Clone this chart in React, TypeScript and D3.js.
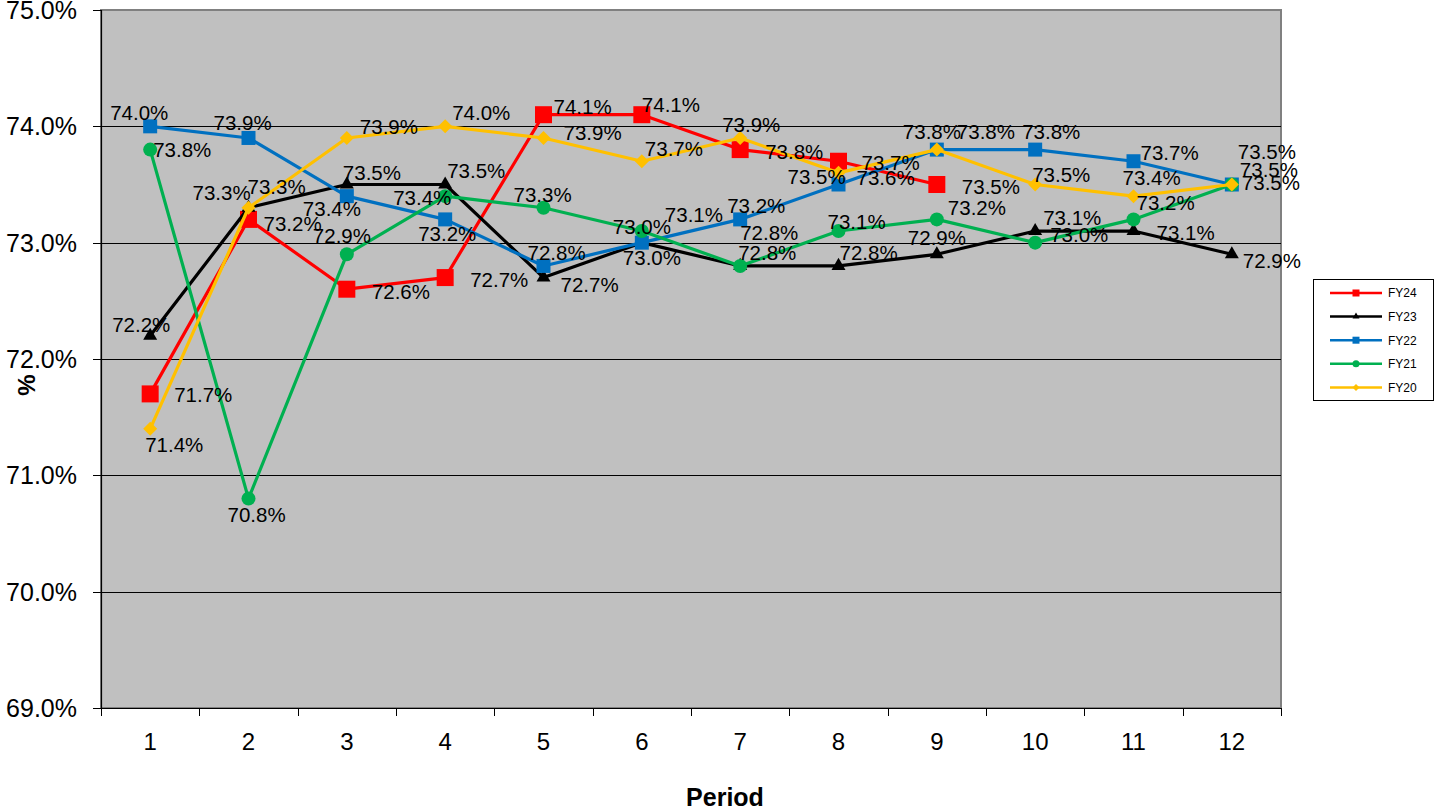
import React from 'react';
import * as d3 from 'd3';

const periods = [1, 2, 3, 4, 5, 6, 7, 8, 9, 10, 11, 12];
const fy24 = [71.7, 73.2, 72.6, 72.7, 74.1, 74.1, 73.8, 73.7, 73.5];
const fy23 = [72.2, 73.3, 73.5, 73.5, 72.7, 73.0, 72.8, 72.8, 72.9, 73.1, 73.1, 72.9];
const fy22 = [74.0, 73.9, 73.4, 73.2, 72.8, 73.0, 73.2, 73.5, 73.8, 73.8, 73.7, 73.5];
const fy21 = [73.8, 70.8, 72.9, 73.4, 73.3, 73.1, 72.8, 73.1, 73.2, 73.0, 73.2, 73.5];
const fy20 = [71.4, 73.3, 73.9, 74.0, 73.9, 73.7, 73.9, 73.6, 73.8, 73.5, 73.4, 73.5];
const seriesNames = ['FY24', 'FY23', 'FY22', 'FY21', 'FY20'];
const yTicks = [69, 70, 71, 72, 73, 74, 75];

// label nudges: [left edge offset from marker, vertical centre offset from marker]
const nudge24 = [[24, 1], [15, 4], [25, 2], [25, 2], [10, -8], [0, -10], [25, 2], [23, 1], [25, 2]];
const nudge23 = [[-38, -11], [-56, -15], [-4, -12], [2, -14], [17, 7], [-19, 15], [-2, -13], [1, -13], [-29, -17], [8, -13], [23, 2], [11, 6]];
const nudge22 = [[-40, -14], [-35, -15], [-44, 12], [-27, 14], [-16, -13], [-29, -16], [-13, -14], [-51, -8], [-34, -18], [-13, -18], [7, -9], [6, -33]];
const nudge21 = [[3, 0], [-21, 16], [-34, -19], [-52, 1], [-30, -13], [23, -16], [0, -33], [-11, -9], [11, -12], [15, -8], [3, -17], [8, -15]];
const nudge20 = [[-5, 16], [-1, -21], [13, -11], [7, -14], [20, -5], [3, -13], [-18, -13], [18, 5], [20, -18], [-3, -10], [-11, -19], [10, -2]];

type Marker = 'square' | 'triangle' | 'circle' | 'diamond';
const series = [
  { name: seriesNames[0], values: fy24, color: '#FF0000', marker: 'square' as Marker, size: 17, lsize: 7, nudges: nudge24 },
  { name: seriesNames[1], values: fy23, color: '#000000', marker: 'triangle' as Marker, size: 14, lsize: 7, nudges: nudge23 },
  { name: seriesNames[2], values: fy22, color: '#0070C0', marker: 'square' as Marker, size: 14, lsize: 7, nudges: nudge22 },
  { name: seriesNames[3], values: fy21, color: '#00B050', marker: 'circle' as Marker, size: 14, lsize: 7, nudges: nudge21 },
  { name: seriesNames[4], values: fy20, color: '#FFC000', marker: 'diamond' as Marker, size: 14, lsize: 7, nudges: nudge20 },
];

const FONT = '"Liberation Sans", Arial, sans-serif';

function markerPath(m: Marker, w: number): { d: string; rot: number } {
  if (m === 'square') return { d: d3.symbol(d3.symbolSquare, w * w)() as string, rot: 0 };
  if (m === 'circle') return { d: d3.symbol(d3.symbolCircle, Math.PI * (w / 2) * (w / 2))() as string, rot: 0 };
  if (m === 'triangle') return { d: d3.symbol(d3.symbolTriangle, (Math.sqrt(3) / 4) * w * w)() as string, rot: 0 };
  const s = w / Math.SQRT2;
  return { d: d3.symbol(d3.symbolSquare, s * s)() as string, rot: 45 };
}

export default function App() {
  const W = 1435, H = 810;
  const left = 101, right = 1281, top = 10, bottom = 708;
  const x = d3.scaleBand<number>().domain(periods).range([left, right]);
  const cx = (p: number) => (x(p) as number) + x.bandwidth() / 2;
  const y = d3.scaleLinear().domain([69, 75]).range([bottom, top]);
  const line = d3.line<number>().x((_, i) => cx(periods[i])).y((v) => y(v));
  const fmt = d3.format('.1f');
  const boundaries = periods.map((p) => x(p) as number).concat([right]);

  return (
    <svg width={W} height={H} style={{ position: 'absolute', left: 0, top: 0, background: '#fff' }}>
      <rect x={left} y={top} width={right - left} height={bottom - top} fill="#C0C0C0" stroke="#808080" strokeWidth={2} />
      {yTicks.slice(1, -1).map((t) => (
        <line key={'g' + t} x1={left} x2={right} y1={Math.round(y(t)) + 0.5} y2={Math.round(y(t)) + 0.5} stroke="#000" strokeWidth={1} />
      ))}
      <line x1={left + 0.5} x2={left + 0.5} y1={top} y2={bottom} stroke="#000" strokeWidth={1.2} />
      <line x1={left} x2={right} y1={bottom + 0.5} y2={bottom + 0.5} stroke="#000" strokeWidth={1.2} />
      {yTicks.map((t) => (
        <g key={'yt' + t}>
          <line x1={left - 8} x2={left} y1={Math.round(y(t)) + 0.5} y2={Math.round(y(t)) + 0.5} stroke="#000" />
          <text x={77} y={y(t)} dy="0.36em" textAnchor="end" fontFamily={FONT} fontSize={25} fill="#000">
            {fmt(t) + '%'}
          </text>
        </g>
      ))}
      {boundaries.map((b, i) => (
        <line key={'xt' + i} x1={Math.round(b) + 0.5} x2={Math.round(b) + 0.5} y1={bottom} y2={bottom + 8} stroke="#000" />
      ))}
      {periods.map((p) => (
        <text key={'xl' + p} x={cx(p)} y={741} dy="0.36em" textAnchor="middle" fontFamily={FONT} fontSize={24} fill="#000">
          {p}
        </text>
      ))}
      <text x={725} y={797} dy="0.36em" textAnchor="middle" fontFamily={FONT} fontSize={25} fontWeight="bold" fill="#000">
        Period
      </text>
      <text transform="translate(26,385) rotate(-90)" dy="0.36em" textAnchor="middle" fontFamily={FONT} fontSize={24} fontWeight="bold" fill="#000">
        %
      </text>

      {series.map((s) => (
        <g key={'s' + s.name}>
          <path d={line(s.values) as string} fill="none" stroke={s.color} strokeWidth={3.2} strokeLinejoin="round" />
          {s.values.map((v, i) => {
            const mp = markerPath(s.marker, s.size);
            return (
              <path key={i} d={mp.d} fill={s.color} transform={`translate(${cx(periods[i])},${y(v)}) rotate(${mp.rot})`} />
            );
          })}
        </g>
      ))}
      {series.map((s) => (
        <g key={'l' + s.name}>
          {s.values.map((v, i) => (
            <text
              key={i}
              x={cx(periods[i]) + s.nudges[i][0]}
              y={y(v) + s.nudges[i][1]}
              dy="0.36em"
              fontFamily={FONT}
              fontSize={20.5}
              fill="#000"
            >
              {fmt(v) + '%'}
            </text>
          ))}
        </g>
      ))}

      <rect x={1313.5} y={279.5} width={120} height={121} fill="#fff" stroke="#000" strokeWidth={1} />
      {series.map((s, i) => {
        const ly = 293 + i * 23.6;
        const mp = markerPath(s.marker, s.lsize);
        return (
          <g key={'lg' + s.name}>
            <line x1={1330} x2={1382} y1={ly} y2={ly} stroke={s.color} strokeWidth={2.5} />
            <path d={mp.d} fill={s.color} transform={`translate(1356,${ly}) rotate(${mp.rot})`} />
            <text x={1388} y={ly} dy="0.36em" fontFamily={FONT} fontSize={12} fill="#000">
              {s.name}
            </text>
          </g>
        );
      })}
    </svg>
  );
}
